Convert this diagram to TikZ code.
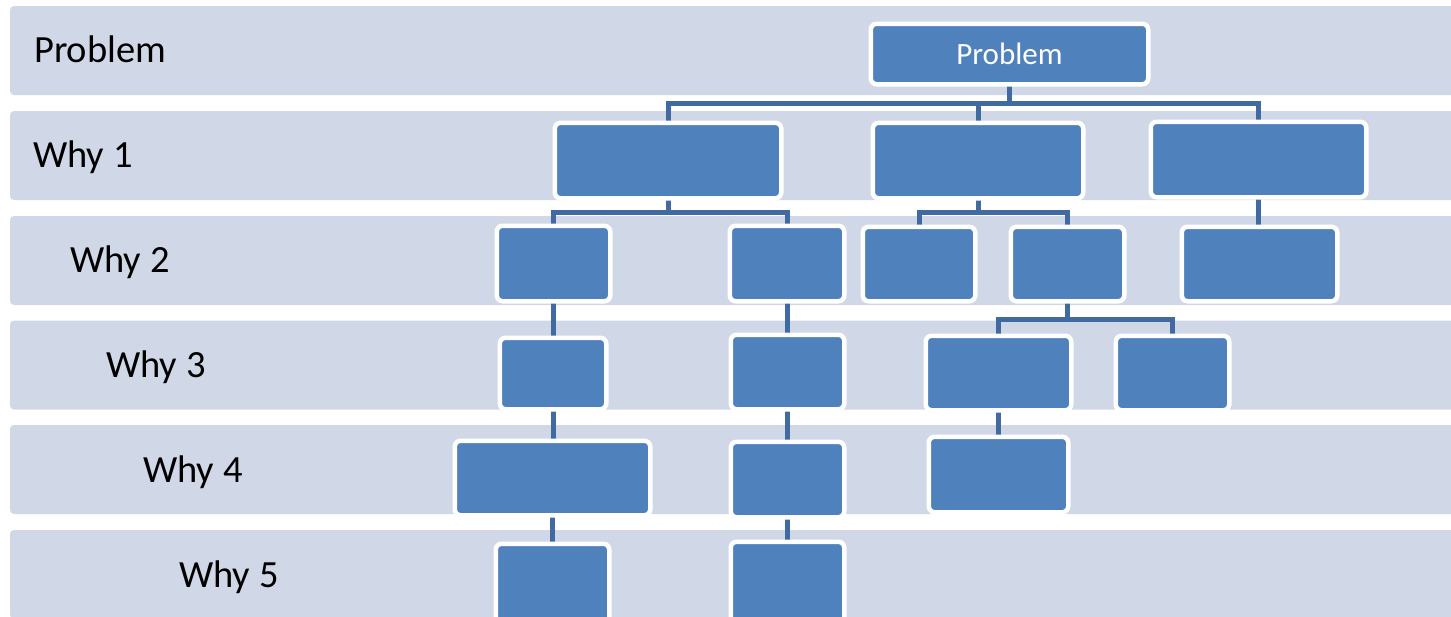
\documentclass[tikz,border=0pt]{standalone}
\usepackage{fontspec}
\setmainfont{Carlito}
\pgfdeclarelayer{bands}
\pgfdeclarelayer{links}
\pgfsetlayers{bands,links,main}

\definecolor{bandfill}{RGB}{208,216,232}
\definecolor{boxfill}{RGB}{79,129,189}
\definecolor{linkcol}{RGB}{65,106,160}

\tikzset{
  band/.style={fill=bandfill, rounded corners=4pt},
  whybox/.style={draw=white, line width=4.5pt, fill=boxfill, rounded corners=6pt, inner sep=0pt},
  link/.style={draw=linkcol, line width=5pt},
  rowlabel/.style={anchor=base west, inner sep=0pt, font=\fontsize{38.5}{46}\selectfont},
  boxtext/.style={text=white, font=\fontsize{31}{37}\selectfont},
}

% \whynode{name}{x1}{y1}{x2}{y2}{text}: box given by its blue inner area
\newcommand\whynode[6]{%
  \node[whybox, minimum width={(#4)-(#2)+4.5}, minimum height={(#5)-(#3)+4.5}]
    (#1) at ({(#2+#4)/2},{(#3+#5)/2}) {#6};}

\begin{document}
\begin{tikzpicture}[x=1pt,y=-1pt]
\useasboundingbox (0,0) rectangle (1451,616);
\clip (0,0) rectangle (1451,616);

% horizontal level bands
\begin{pgfonlayer}{bands}
  \foreach \t in {6,111,216,320.5,425,530}
    \fill[band] (10,\t) rectangle (1480,\t+89);
\end{pgfonlayer}

% level labels
\node[rowlabel] (lp) at (34,62) {Problem};
\node[rowlabel] (l1) at (33,167) {Why 1};
\node[rowlabel] (l2) at (70,272) {Why 2};
\node[rowlabel] (l3) at (106,377) {Why 3};
\node[rowlabel] (l4) at (143,482) {Why 4};
\node[rowlabel] (l5) at (179,587) {Why 5};

% boxes
\whynode{prob}{873}{26}{1146}{82}{}
\node[boxtext, anchor=base] (probtxt) at (prob.center |- 0,64) {Problem};

\whynode{w1a}{557}{125}{779}{196}{}
\whynode{w1b}{875}{125}{1081}{196}{}
\whynode{w1c}{1153}{124}{1364}{195}{}

\whynode{w2a}{499}{228}{608}{299}{}
\whynode{w2b}{732}{228}{842}{299}{}
\whynode{w2c}{865}{229}{973}{299}{}
\whynode{w2d}{1013}{229}{1122}{299}{}
\whynode{w2e}{1184}{229}{1335}{299}{}

\whynode{w3a}{502}{340}{604}{407}{}
\whynode{w3b}{733}{337}{842}{407}{}
\whynode{w3c}{928}{338}{1069}{408}{}
\whynode{w3d}{1118}{338}{1227}{408}{}

\whynode{w4a}{457}{443}{648}{513}{}
\whynode{w4b}{733}{444}{842}{515}{}
\whynode{w4c}{931}{439}{1066}{510}{}

\whynode{w5a}{498}{546}{607}{630}{}
\whynode{w5b}{733}{544}{842}{630}{}

% connectors, drawn behind the boxes
\begin{pgfonlayer}{links}
  \coordinate (bar1) at (0,103);
  \coordinate (bar2) at (0,212.5);
  \coordinate (bar3) at (0,319.5);

  \draw[link] (prob.center) -- (prob.center |- bar1);
  \draw[link] (w1a.center) |- (w1c.center |- bar1) -- (w1c.center);
  \draw[link] (w1b.center) -- (w1b.center |- bar1);

  \draw[link] (w1a.center) -- (w1a.center |- bar2);
  \draw[link] (w2a.center) |- (w2b.center |- bar2) -- (w2b.center);
  \draw[link] (w1b.center) -- (w1b.center |- bar2);
  \draw[link] (w2c.center) |- (w2d.center |- bar2) -- (w2d.center);
  \draw[link] (w1c.center) -- (w1c.center |- w2e.center);

  \draw[link] (w2d.center) -- (w2d.center |- bar3);
  \draw[link] (w3c.center) |- (w3d.center |- bar3) -- (w3d.center);

  \draw[link] (w2a.center) -- (w2a.center |- w3a.center);
  \draw[link] (w3a.center) -- (w3a.center |- w4a.center);
  \draw[link] (w4a.center) -- (w4a.center |- w5a.center);
  \draw[link] (w2b.center) -- (w2b.center |- w3b.center);
  \draw[link] (w3b.center) -- (w3b.center |- w4b.center);
  \draw[link] (w4b.center) -- (w4b.center |- w5b.center);
  \draw[link] (w3c.center) -- (w3c.center |- w4c.center);
\end{pgfonlayer}
\end{tikzpicture}
\end{document}
